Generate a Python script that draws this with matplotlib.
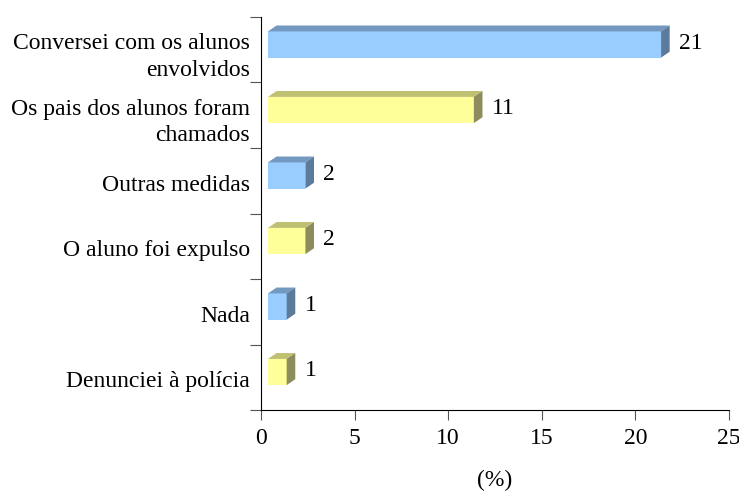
import matplotlib
matplotlib.use("Agg")
import matplotlib.pyplot as plt

# ---------------- DATA ----------------
categories = [
    "Conversei com os alunos\nenvolvidos",
    "Os pais dos alunos foram\nchamados",
    "Outras medidas",
    "O aluno foi expulso",
    "Nada",
    "Denunciei à polícia",
]
values = [21, 11, 2, 2, 1, 1]
xticks = [0, 5, 10, 15, 20, 25]

# ---------------- STYLE ----------------
FRONT = ["#99CCFF", "#FFFF99"]
TOP = ["#7399C0", "#C0C073"]
SIDE = ["#5C7A99", "#8C8C5C"]
X0 = 0.37      # front face offset from axis
DX = 0.46      # depth in x (data units)
DY = 0.09      # depth in y (data units)
LOW, HIGH = 0.12, 0.28   # front face below/above category centre
FS = 17

plt.rcParams['font.family'] = ['Liberation Serif', 'DejaVu Serif']

fig = plt.figure(figsize=(7.39, 4.94), dpi=100)
ax = fig.add_axes([0.3532, 0.17, 0.6333, 0.7956])

n = len(categories)
for i, (v, lab) in enumerate(zip(values, categories)):
    yc = n - 1 - i + 0.5
    k = i % 2
    y0, y1 = yc - LOW, yc + HIGH
    xl, xr = X0, X0 + v
    # front
    ax.fill([xl, xr, xr, xl], [y0, y0, y1, y1], color=FRONT[k], lw=0, zorder=3)
    # top
    ax.fill([xl, xr, xr + DX, xl + DX], [y1, y1, y1 + DY, y1 + DY],
            color=TOP[k], lw=0, zorder=3)
    # side
    ax.fill([xr, xr + DX, xr + DX, xr], [y0, y0 + DY, y1 + DY, y1],
            color=SIDE[k], lw=0, zorder=3)
    ax.text(xr + DX + 0.5, (y0 + y1) / 2 + 0.02, str(v), ha="left", va="center",
            fontsize=FS)

ax.set_xlim(0, 25)
ax.set_ylim(0, n)
ax.set_xticks(xticks)
ax.set_xticklabels([str(t) for t in xticks], fontsize=FS)
ax.set_yticks(range(n + 1))
ax.set_yticklabels([])
ax.set_yticks([n - 1 - i + 0.5 - 0.03 for i in range(n)], minor=True)
ax.set_yticklabels(categories, minor=True, fontsize=FS, ha="right",
                   multialignment="right", linespacing=1.35)
ax.tick_params(axis="y", which="minor", length=0, pad=8)
ax.tick_params(axis="y", which="major", length=8, direction="out", color="#555555")
ax.tick_params(axis="x", length=7, direction="out", pad=6, color="#555555")
ax.spines["top"].set_visible(False)
ax.spines["right"].set_visible(False)
ax.set_xlabel("(%)", fontsize=FS, labelpad=15)

fig.savefig("out.png", dpi=100)
